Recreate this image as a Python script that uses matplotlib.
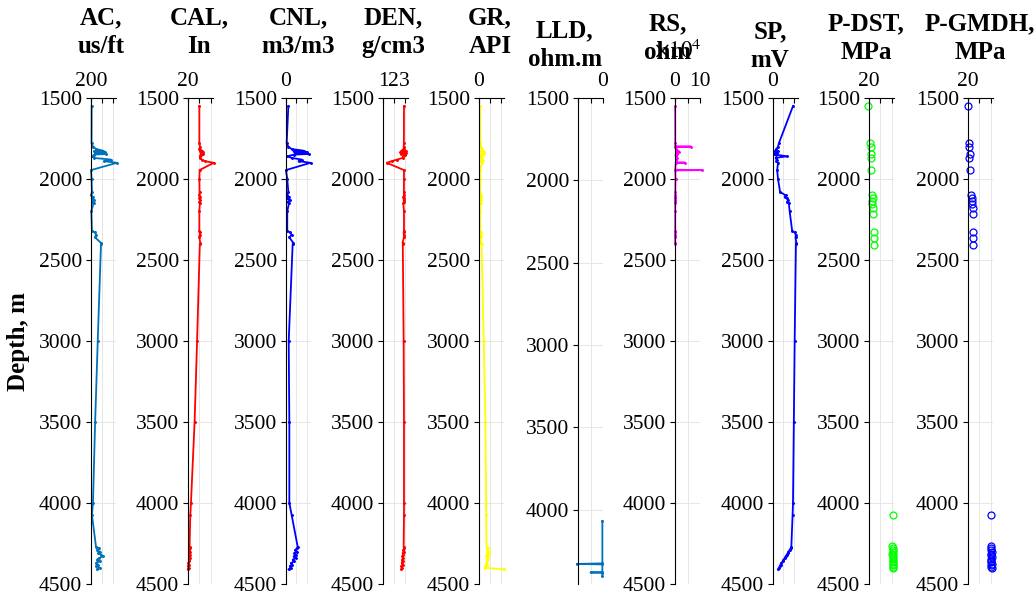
import matplotlib
matplotlib.use("Agg")
import matplotlib.pyplot as plt

# depth samples shared by the continuous logs (m)
depth = [1550, 1780, 1800, 1815, 1825, 1830, 1835, 1840, 1845, 1850,
         1860, 1870, 1880, 1890, 1900, 1945, 2000, 2080, 2100, 2110,
         2120, 2130, 2140, 2150, 2200, 2320, 2330, 2345, 2360, 2395,
         2400, 3000, 3500, 4000, 4075, 4270, 4280, 4290, 4300, 4310,
         4320, 4330, 4340, 4350, 4360, 4370, 4380, 4390, 4400, 4410]

ac = [206, 205, 218, 246, 310, 228, 329, 237, 338, 228,
      209, 228, 384, 320, 439, 200, 205, 209, 200, 218,
      205, 228, 209, 223, 203, 209, 237, 246, 237, 292,
      292, 262, 238, 218, 209, 246, 274, 255, 283, 264,
      292, 310, 274, 255, 283, 246, 264, 246, 283, 255]

cal = [25.0, 25.0, 25.3, 25.0, 26.2, 25.3, 26.5, 25.5, 26.8, 25.5,
       25.2, 25.3, 26.0, 27.5, 31.3, 25.1, 25.0, 25.1, 24.9, 25.3,
       25.0, 25.4, 25.0, 25.2, 25.0, 25.0, 25.3, 25.1, 25.0, 25.4,
       25.2, 24.0, 22.9, 21.3, 21.0, 20.7, 21.0, 20.6, 20.9, 20.5,
       20.8, 20.4, 20.7, 20.3, 20.6, 20.2, 20.4, 20.1, 20.3, 19.9]

cnl = [0.056, 0.016, 0.056, 0.136, 0.42, 0.18, 0.50, 0.22, 0.56, 0.18,
       0.03, 0.136, 0.38, 0.30, 0.59, 0.0, 0.03, 0.056, 0.016, 0.08,
       0.03, 0.096, 0.04, 0.07, 0.03, 0.03, 0.096, 0.136, 0.08, 0.176,
       0.16, 0.065, 0.08, 0.08, 0.136, 0.28, 0.26, 0.22, 0.27, 0.2,
       0.25, 0.18, 0.23, 0.16, 0.2, 0.12, 0.15, 0.09, 0.11, 0.06]

den = [2.93, 2.92, 2.9, 2.9, 2.7, 3.1, 2.6, 3.15, 2.65, 3.05,
       2.85, 2.8, 2.3, 1.8, 1.35, 2.93, 2.93, 2.92, 2.93, 2.88,
       2.93, 2.9, 2.93, 2.87, 2.93, 2.93, 2.9, 2.93, 2.92, 2.8,
       2.82, 2.9, 2.93, 2.93, 2.93, 2.9, 2.95, 2.85, 2.9, 2.8,
       2.88, 2.78, 2.85, 2.75, 2.82, 2.72, 2.8, 2.7, 2.75, 2.68]

gr = [5, 6, 8, 12, 20, 10, 25, 12, 22, 9,
      15, 8, 18, 10, 14, 5, 6, 5, 7, 9,
      6, 8, 6, 7, 5, 6, 9, 8, 7, 10,
      12, 22, 30, 33, 33, 35, 40, 35, 45, 36,
      42, 34, 40, 35, 38, 33, 36, 30, 30, 118]

sp = [48, 14, 12, 8, 5, 12, 4, 10, 3, 8,
      33, 6, 10, 8, 12, 10, 12, 17, 30, 28,
      33, 36, 34, 38, 40, 46, 52, 55, 54, 56,
      55, 52, 50, 48, 47, 44, 42, 40, 37, 35,
      33, 30, 28, 25, 23, 20, 18, 16, 14, 12]

# RS only recorded down to 2400 m
rs_depth = [1550, 1780, 1798, 1800, 1802, 1815, 1825, 1830, 1835, 1840,
            1845, 1850, 1860, 1870, 1880, 1897, 1899, 1901, 1943, 1945,
            1947, 2000, 2080, 2100, 2110, 2120, 2130, 2140, 2150, 2200,
            2320, 2330, 2345, 2360, 2395, 2400]
rs = [500, 1000, 1500, 65000, 1500, 3000, 12000, 5000, 15000, 4000,
      8000, 2000, 3000, 6000, 4000, 3000, 40000, 3000, 1000, 108000,
      1000, 2000, 1000, 1500, 800, 1200, 600, 1000, 500, 800,
      500, 1200, 700, 900, 500, 400]

# LLD only at the bottom of the well
lld_depth = [4068, 4325, 4328, 4331, 4378, 4380, 4382, 4400]
lld = [-0.05, -0.05, -2.1, -0.05, -0.05, -1.0, -0.05, -0.05]

# pressure points
p_depth = [1549, 1776, 1802, 1848, 1868, 1944, 2099, 2115, 2136, 2152,
           2177, 2218, 2325, 2362, 2407, 4075, 4265, 4278, 4290, 4300,
           4312, 4322, 4335, 4345, 4355, 4365, 4375, 4385, 4395, 4402]
p_dst = [19.4, 20.9, 21.5, 21.5, 22.0, 21.8, 22.6, 23.3, 22.9, 22.4,
         23.5, 23.8, 24.1, 24.1, 24.1, 41.1, 40.5, 41.2, 40.8, 41.5,
         40.6, 41.0, 41.3, 40.7, 41.1, 40.9, 41.4, 40.8, 41.0, 41.2]
p_gmdh = [20.0, 20.9, 20.9, 21.5, 20.9, 22.0, 22.9, 23.3, 23.8, 23.5,
          24.1, 24.4, 24.4, 24.1, 24.4, 40.5, 39.8, 40.6, 40.2, 41.0,
          40.0, 40.5, 40.8, 40.2, 40.6, 40.3, 40.9, 40.2, 40.5, 40.7]

titles = [("AC,", "us/ft"), ("CAL,", "In"), ("CNL,", "m3/m3"), ("DEN,", "g/cm3"),
          ("GR,", "API"), ("LLD,", "ohm.m"), ("RS,", "ohm"), ("SP,", "mV"),
          ("P-DST,", "MPa"), ("P-GMDH,", "MPa")]

plt.rcParams['font.family'] = ['Liberation Serif', 'DejaVu Serif']
plt.rcParams['mathtext.fontset'] = 'stix'

W, H = 1035, 602
fig = plt.figure(figsize=(W / 100, H / 100), dpi=100)

# panel layout in pixels
lefts = [91, 188, 286, 383, 479, 578, 675, 773, 869, 968]
ax_w, ax_top, ax_h = 25, 98, 486
# title centre x and baseline (px) of the first title line
title_x = [101, 199, 298, 393, 490, 565, 668, 770, 866, 980]
title_y = [24, 24, 24, 24, 24, 37, 30, 38, 30, 30]

panels = [
    # x, y, style, xlim, xticks, xticklabels
    (ac, depth, dict(color='#0072BD'), (200, 430), [200, 300, 400], ['200', '', '']),
    (cal, depth, dict(color='red'), (20, 31), [20, 25, 30], ['20', '', '']),
    (cnl, depth, dict(color='blue'), (0, 0.6), [0, 0.25, 0.5], ['0', '', '']),
    (den, depth, dict(color='red'), (1, 3.3), [1, 2, 3], ['1', '2', '3']),
    (gr, depth, dict(color='yellow'), (0, 116), [0, 50, 100], ['0', '', '']),
    (lld, lld_depth, dict(color='#0072BD'), (-2, 0), [-2, -1, 0], ['', '', '0']),
    (rs, rs_depth, dict(color='magenta'), (0, 1e5), [0, 5e4, 1e5], ['0', '', '10']),
    (sp, depth, dict(color='blue'), (0, 60), [0, 25, 50], ['0', '', '']),
    (p_dst, p_depth, None, (20, 42), [20, 30, 40], ['20', '', '']),
    (p_gmdh, p_depth, None, (20, 42), [20, 30, 40], ['20', '', '']),
]
point_colors = {8: '#00ff00', 9: 'blue'}

for i, (xv, yv, style, xlim, xt, xtl) in enumerate(panels):
    ax = fig.add_axes([lefts[i] / W, 1 - (ax_top + ax_h) / H, ax_w / W, ax_h / H])
    if style is not None:
        ax.plot(xv, yv, '-', marker='.', markersize=2.2, lw=1.3, clip_on=False, **style)
    else:
        ax.plot(xv, yv, 'o', mfc='none', mec=point_colors[i], ms=5, mew=0.9, clip_on=False)

    ax.set_xlim(*xlim)
    ax.set_xticks(xt)
    ax.set_xticklabels(xtl)
    if i == 5:
        ax.set_ylim(4450, 1500)
        ax.set_yticks(range(1500, 4001, 500))
    else:
        ax.set_ylim(4500, 1500)
        ax.set_yticks(range(1500, 4501, 500))

    ax.xaxis.tick_top()
    ax.spines['right'].set_visible(False)
    ax.spines['bottom'].set_visible(False)
    ax.tick_params(axis='x', direction='in', length=3.5, width=0.8, labelsize=15.5, pad=5)
    ax.tick_params(axis='y', direction='out', length=3.5, width=0.8, labelsize=15.5, pad=3)
    ax.grid(True, color='#e2e2e2', lw=0.6)
    ax.set_axisbelow(True)

    cx = title_x[i] / W
    fig.text(cx, 1 - title_y[i] / H, titles[i][0], ha='center', va='baseline',
             fontsize=18, fontweight='bold')
    fig.text(cx, 1 - (title_y[i] + 29) / H, titles[i][1], ha='center', va='baseline',
             fontsize=18, fontweight='bold')

# exponent label of the RS axis (overlaps the unit, as in the original)
fig.text(702 / W, 1 - 57 / H, r'$\times10^{4}$', ha='right', va='baseline', fontsize=16.5)

fig.text(19 / W, 1 - 342 / H, 'Depth, m', rotation=90, ha='center', va='center',
         fontsize=18, fontweight='bold')

fig.savefig('out.png', dpi=100)
